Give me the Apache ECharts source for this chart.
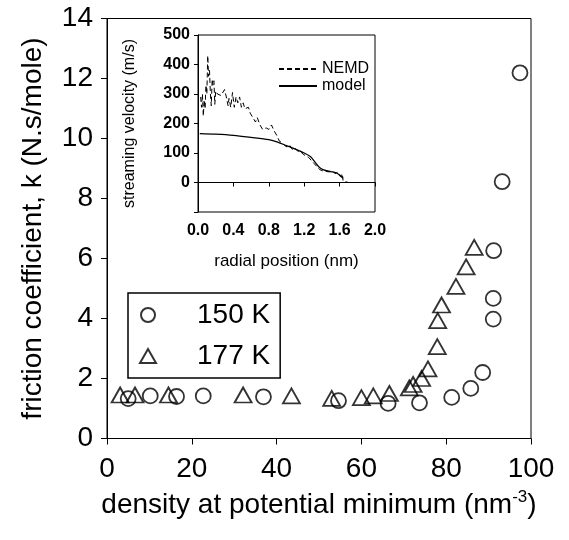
<!DOCTYPE html>
<html><head><meta charset="utf-8">
<script src="https://cdn.jsdelivr.net/npm/echarts@6/dist/echarts.min.js"></script>
<style>html,body{margin:0;padding:0;background:#fff}#c{width:569px;height:540px}</style>
</head><body><div id="c"></div>
<script>
// Main chart data
const circleDensity = [5.0, 10.2, 16.4, 22.7, 36.9, 54.6, 66.3, 73.7, 81.3, 85.8, 88.6, 91.1, 91.1, 91.2, 93.2, 97.4];
const circleK       = [1.33, 1.42, 1.40, 1.42, 1.39, 1.26, 1.17, 1.19, 1.37, 1.67, 2.20, 3.98, 4.67, 6.26, 8.56, 12.19];
const triDensity = [3.1, 6.6, 14.5, 32.1, 43.5, 53.0, 60.0, 62.8, 66.6, 71.3, 72.2, 74.2, 75.7, 77.9, 78.0, 78.9, 82.3, 84.7, 86.6];
const triK       = [1.45, 1.45, 1.45, 1.45, 1.42, 1.34, 1.36, 1.42, 1.50, 1.69, 1.80, 2.00, 2.32, 3.06, 3.93, 4.45, 5.07, 5.72, 6.37];
const seriesNames = ['150 K', '177 K'];
// Inset data
const nemdR = [0.03,0.04,0.05,0.06,0.07,0.08,0.09,0.10,0.11,0.12,0.13,0.14,0.15,0.16,0.17,0.18,0.19,0.20,0.22,0.24,0.26,0.28,0.30,0.32,0.34,0.35,0.37,0.39,0.41,0.43,0.45,0.47,0.49,0.51,0.53,0.55,0.57,0.59,0.61,0.63,0.65,0.67,0.70,0.73,0.77,0.80,0.83,0.86,0.89,0.92,0.95,0.98,1.01,1.04,1.07,1.10,1.13,1.16,1.19,1.22,1.25,1.28,1.31,1.34,1.37,1.40,1.44,1.48,1.52,1.55,1.58,1.61,1.63,1.64,1.65,1.70,1.89];
const nemdV = [290,255,300,225,280,250,330,300,430,360,380,300,260,350,330,345,265,310,300,305,295,300,315,290,260,285,255,305,255,290,270,290,255,270,250,245,255,235,240,215,205,220,195,180,185,180,195,175,160,140,135,125,120,125,110,115,105,105,95,90,85,75,65,55,45,40,38,36,38,30,35,20,30,5,0,0,0];
const modelR = [0.02,0.2,0.4,0.6,0.8,0.9,1.0,1.1,1.2,1.27,1.32,1.37,1.42,1.5,1.56,1.6,1.64];
const modelV = [166,164,160,153,145,137,125,113,100,88,70,52,43,37,33,25,14];
const insetNames = ['NEMD', 'model'];

const FONT = "'Liberation Sans', Arial, sans-serif";
const zip = (a, b) => a.map((v, i) => [v, b[i]]);

const chart = echarts.init(document.getElementById('c'), null, {renderer: 'canvas'});
chart.setOption({
  backgroundColor: '#fff',
  animation: false,
  textStyle: {fontFamily: FONT, color: '#000'},
  grid: [
    {left: 107, right: 38, top: 18.5, bottom: 101.5, show: true, borderColor: '#000', borderWidth: 1, backgroundColor: 'transparent'},
    {left: 198, right: 194, top: 35, bottom: 328, show: true, borderColor: '#000', borderWidth: 1, backgroundColor: '#fff'}
  ],
  legend: [
    {
      data: [{name: seriesNames[0], icon: 'circle'}, {name: seriesNames[1], icon: 'triangle'}],
      orient: 'vertical', left: 128, top: 293,
      padding: [8, 10, 8, 11], itemGap: 13, itemWidth: 16, itemHeight: 14,
      borderColor: '#000', borderWidth: 1.5,
      textStyle: {fontFamily: FONT, fontSize: 28, color: '#000', padding: [0, 0, 0, 36]}
    },
    {
      data: insetNames,
      orient: 'vertical', left: 278, top: 61,
      padding: 0, itemGap: 1, itemWidth: 38, itemHeight: 14,
      itemStyle: {opacity: 0},
      lineStyle: {color: '#000', opacity: 1},
      textStyle: {fontFamily: FONT, fontSize: 16, color: '#000'}
    }
  ],
  xAxis: [
    {
      gridIndex: 0, type: 'value', min: 0, max: 100, interval: 20,
      name: 'density at potential minimum (nm{sup|-3})', nameLocation: 'middle', nameGap: 50,
      nameTextStyle: {fontFamily: FONT, fontSize: 28, color: '#000', lineHeight: 34,
        rich: {sup: {fontFamily: FONT, fontSize: 17, verticalAlign: 'top', lineHeight: 34, padding: [0,0,14,0]}}},
      axisLine: {show: true, lineStyle: {color: '#000', width: 1}},
      axisTick: {show: true, inside: false, length: 6, lineStyle: {color: '#000'}},
      axisLabel: {fontFamily: FONT, fontSize: 28, color: '#000', margin: 17},
      splitLine: {show: false}
    },
    {
      gridIndex: 1, type: 'value', min: 0, max: 2, interval: 0.4,
      name: 'radial position (nm)', nameLocation: 'middle', nameGap: 41,
      nameTextStyle: {fontFamily: FONT, fontSize: 17, color: '#000'},
      axisLine: {show: true, lineStyle: {color: '#000', width: 1}},
      axisTick: {show: true, length: 4, lineStyle: {color: '#000'}},
      axisLabel: {fontFamily: FONT, fontSize: 16, fontWeight: 'bold', color: '#000', margin: 11, formatter: v => v.toFixed(1)},
      splitLine: {show: false}
    }
  ],
  yAxis: [
    {
      gridIndex: 0, type: 'value', min: 0, max: 14, interval: 2,
      name: 'friction coefficient, k (N.s/mole)', nameLocation: 'middle', nameGap: 60,
      nameTextStyle: {fontFamily: FONT, fontSize: 28, color: '#000'},
      axisLine: {show: true, lineStyle: {color: '#000', width: 1}},
      axisTick: {show: true, length: 6, lineStyle: {color: '#000'}},
      axisLabel: {fontFamily: FONT, fontSize: 28, color: '#000', margin: 14},
      splitLine: {show: false}
    },
    {
      gridIndex: 1, type: 'value', min: -100, max: 500, interval: 100,
      name: 'streaming velocity (m/s)', nameLocation: 'middle', nameGap: 60,
      nameTextStyle: {fontFamily: FONT, fontSize: 16, color: '#000'},
      axisLine: {show: true, lineStyle: {color: '#000', width: 1}},
      axisTick: {show: true, length: 4, lineStyle: {color: '#000'}},
      axisLabel: {fontFamily: FONT, fontSize: 16, fontWeight: 'bold', color: '#000', margin: 8, formatter: v => v < 0 ? '' : String(v)},
      splitLine: {show: false}
    }
  ],
  series: [
    {
      name: seriesNames[0], type: 'scatter', xAxisIndex: 0, yAxisIndex: 0,
      symbol: 'circle', symbolSize: 15,
      itemStyle: {color: 'rgba(0,0,0,0)', borderColor: '#000', borderWidth: 1.8},
      data: zip(circleDensity, circleK)
    },
    {
      name: seriesNames[1], type: 'scatter', xAxisIndex: 0, yAxisIndex: 0,
      symbol: 'triangle', symbolSize: [17, 15],
      itemStyle: {color: 'rgba(0,0,0,0)', borderColor: '#000', borderWidth: 1.8},
      data: zip(triDensity, triK)
    },
    {
      name: insetNames[0], type: 'line', xAxisIndex: 1, yAxisIndex: 1,
      showSymbol: false, symbol: 'none',
      lineStyle: {color: '#000', width: 1, type: [5, 3]},
      itemStyle: {color: '#000'},
      data: zip(nemdR, nemdV)
    },
    {
      name: insetNames[1], type: 'line', xAxisIndex: 1, yAxisIndex: 1,
      showSymbol: false, symbol: 'none', smooth: 0.3,
      lineStyle: {color: '#000', width: 1.3},
      itemStyle: {color: '#000'},
      data: zip(modelR, modelV)
    }
  ]
});
</script>
</body></html>
